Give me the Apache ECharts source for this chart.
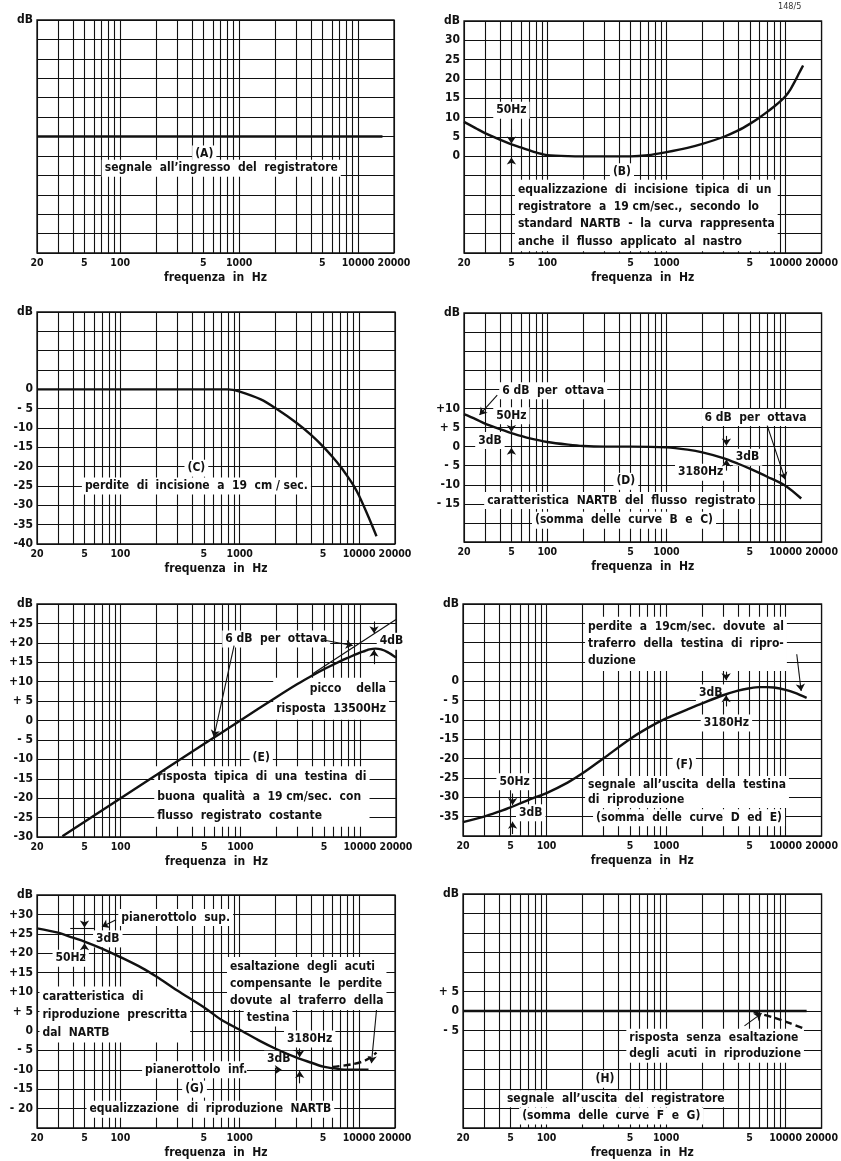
<!DOCTYPE html>
<html><head><meta charset="utf-8">
<script src="https://cdn.jsdelivr.net/npm/echarts@6/dist/echarts.min.js"></script>
<style>html,body{margin:0;padding:0;background:#fff}#c{width:841px;height:1161px}</style>
</head><body><div id="c"></div>
<script>
// ---------- axes ----------
const GRID_FREQS = [20,30,40,50,60,70,80,90,100,200,300,400,500,600,700,800,900,1000,2000,3000,4000,5000,6000,7000,8000,9000,10000,20000];
const TICK_FREQS = [20,50,100,500,1000,5000,10000,20000];
const TICK_TEXT  = ['20','5','100','5','1000','5','10000','20000'];

// ---------- curves (frequency Hz / dB) ----------
const fA = [20, 16000];
const dbA = [0, 0];

const fB = [20,25,30,40,50,60,70,80,90,100,150,200,300,500,700,1000,1500,2000,3000,4000,5000,6000,7000,8000,9000,10000,11000,12000,13000,14000];
const dbB = [8.9,7.3,6.0,4.3,3.1,2.3,1.6,1.0,0.6,0.3,0.05,0,0,0,0.3,1.1,2.2,3.2,5.0,6.7,8.4,10.0,11.5,12.9,14.2,15.6,17.4,19.5,21.6,23.5];

const fC = [20,100,500,800,1000,1500,2000,3000,4000,5000,6000,7000,8000,9000,10000,12000,14000];
const dbC = [0,0,0,0,-0.6,-2.6,-4.9,-8.7,-11.9,-14.8,-17.5,-20,-22.5,-24.9,-27.5,-33,-38];

const fD = [20,25,30,40,50,60,70,100,150,200,300,500,1000,1500,2000,3000,4000,5000,7000,10000,13500];
const dbD = [8.5,7.2,6.0,4.6,3.5,2.8,2.2,1.2,0.5,0.15,0,0,-0.2,-0.8,-1.5,-3.0,-4.5,-5.8,-7.9,-10.3,-13.6];

const fE = [32.6,50,100,200,500,1000,2000,3000,4000,5000,6000,7000,8000,9000,10000,11000,12000,13500,15000,17000,20000];
const dbE = [-29.8,-26.1,-20,-14,-6,0,6,9.4,11.6,13.2,14.4,15.4,16.2,16.9,17.5,17.9,18.3,18.5,18.3,17.6,16.2];
const fE2 = [4000, 20000];          // 6 dB/ottava asymptote
const dbE2 = [12.0, 26.0];

const fF = [20,30,40,50,70,100,150,200,300,500,700,1000,1500,2000,3000,4000,5000,6000,7000,8000,10000,12000,15000];
const dbF = [-36.4,-35,-33.7,-32.6,-30.7,-28.9,-26.2,-23.8,-19.9,-14.9,-12.1,-9.6,-7.3,-5.7,-3.6,-2.4,-1.8,-1.5,-1.5,-1.6,-2.2,-3.0,-4.3];

const fG = [20,30,40,50,70,100,150,200,300,500,700,1000,1500,2000,3000,4000,5000,6000,7000,8000,10000,12000];
const dbG = [26.4,25.3,24.0,23.0,21.2,19.0,16.3,14.0,10.4,6.1,2.9,0.3,-2.7,-4.6,-6.9,-8.2,-9.2,-9.6,-9.9,-10,-10,-10];
const fG2 = [6000,8700,11300,14000];   // dashed
const dbG2 = [-9.3,-8.6,-7.6,-5.6];

const fH = [20, 15000];
const dbH = [0, 0];
const fH2 = [5400,8000,11000,14500];   // dashed
const dbH2 = [-0.3,-1.7,-3.2,-4.6];

// ---------- y tick labels ----------
const yValsA = [30];                  const yTextA = ['dB'];
const yValsB = [35,30,25,20,15,10,5,0]; const yTextB = ['dB','30','25','20','15','10','5','0'];
const yValsC = [20,0,-5,-10,-15,-20,-25,-30,-35,-40]; const yTextC = ['dB','0','- 5','-10','-15','-20','-25','-30','-35','-40'];
const yValsD = [35,10,5,0,-5,-10,-15]; const yTextD = ['dB','+10','+ 5','0','- 5','-10','- 15'];
const yValsE = [30,25,20,15,10,5,0,-5,-10,-15,-20,-25,-30]; const yTextE = ['dB','+25','+20','+15','+10','+ 5','0','- 5','-10','-15','-20','-25','-30'];
const yValsF = [20,0,-5,-10,-15,-20,-25,-30,-35]; const yTextF = ['dB','0','- 5','-10','-15','-20','-25','-30','-35'];
const yValsG = [35,30,25,20,15,10,5,0,-5,-10,-15,-20]; const yTextG = ['dB','+30','+25','+20','+15','+10','+ 5','0','- 5','-10','-15','- 20'];
const yValsH = [30,5,0,-5];           const yTextH = ['dB','+ 5','0','- 5'];

// ---------- layout & annotations ----------
const FONT = "'DejaVu Sans Condensed','Liberation Sans Narrow','DejaVu Sans',sans-serif";
const panels = [
 { box:[37,20,357,233], y:[-30,30], yv:yValsA, yt:yTextA,
   curves:[[fA,dbA,'solid']],
   notes:[[509,-4.5,'(A)','center'],[707,-8.2,'segnale  all’ingresso  del  registratore','center']],
   arrows:[] },
 { box:[464,21,360,232], y:[-25,35], yv:yValsB, yt:yTextB,
   curves:[[fB,dbB,'solid']],
   notes:[[50,11.9,'50Hz','center'],[423,-4,'(B)','center'],
          [53.5,-15.3,'equalizzazione  di  incisione  tipica  di  un\nregistratore  a  19 cm/sec.,  secondo  lo\nstandard  NARTB  -  la  curva  rappresenta\nanche  il  flusso  applicato  al  nastro','left',17.4]],
   arrows:[[50,7,50,3.3],[50,-3.5,50,-0.3]] },
 { box:[37,312,358,232], y:[-40,20], yv:yValsC, yt:yTextC,
   curves:[[fC,dbC,'solid']],
   notes:[[433,-20.4,'(C)','center'],[433,-25,'perdite  di  incisione  a  19  cm / sec.','center']],
   arrows:[] },
 { box:[464,313,360,229], y:[-25,35], yv:yValsD, yt:yTextD,
   curves:[[fD,dbD,'solid']],
   notes:[[39.5,14.6,'6 dB  per  ottava','left'],[50,8.1,'50Hz','center'],[33,1.6,'3dB','center'],
          [1970,7.6,'6 dB  per  ottava','left'],[3600,-2.8,'3dB','left'],[3180,-6.7,'3180Hz','right'],
          [456,-9.1,'(D)','center'],[418,-14.1,'caratteristica  NARTB  del  flusso  registrato','center'],
          [440,-19.3,'(somma  delle  curve  B  e  C)','center']],
   arrows:[[38,13.5,27,8.3,0.3],[50,7,50,3.8],[50,-4,50,-0.3],
           [3180,2.8,3180,0.3],[3180,-6.3,3180,-3.4],[7000,5.5,9900,-8.6,-0.35]] },
 { box:[37,604,359,233], y:[-30,30], yv:yValsE, yt:yTextE,
   curves:[[fE,dbE,'solid'],[fE2,dbE2,'thin']],
   notes:[[706,21,'6 dB  per  ottava','left'],[13800,20.4,'4dB','left'],
          [17500,5.6,'picco    della\nrisposta  13500Hz','right',20],
          [1495,-9.7,'(E)','center'],
          [191,-19.6,'risposta  tipica  di  una  testina  di\nbuona  qualità  a  19 cm/sec.  con\nflusso  registrato  costante','left',19.5]],
   arrows:[[4800,20.8,8700,19.3],[887,19.3,601,-4.3,0.35],[13100,25.5,13100,22.5],[13100,14.5,13100,18.2]] },
 { box:[463,604,360,232], y:[-40,20], yv:yValsF, yt:yTextF,
   curves:[[fF,dbF,'solid']],
   notes:[[210,9.7,'perdite  a  19cm/sec.  dovute  al\ntraferro  della  testina  di  ripro-\nduzione','left',17.4],
          [2360,-3,'3dB','center'],[3200,-10.8,'3180Hz','center'],[1420,-21.6,'(F)','center'],
          [210,-28.6,'segnale  all’uscita  della  testina\ndi  riproduzione','left',15],
          [245,-35.3,'(somma  delle  curve  D  ed  E)','left'],
          [54,-26,'50Hz','center'],[55.5,-34,'3dB','left']],
   arrows:[[12400,7,13500,-2.5,-0.6],[3180,2.5,3180,0.3],[3180,-6.5,3180,-3.6],
           [52,-29,52,-32],[52,-39.5,52,-36.3]] },
 { box:[37,895,358,233], y:[-25,35], yv:yValsG, yt:yTextG,
   curves:[[fG,dbG,'solid'],[fG2,dbG2,'dashed']],
   notes:[[96,29.2,'pianerottolo  sup.','left'],[59,23.7,'3dB','left'],[27,18.7,'50Hz','left'],
          [21,4.2,'caratteristica  di\nriproduzione  prescritta\ndal  NARTB','left',18],
          [782,12.2,'esaltazione  degli  acuti\ncompensante  le  perdite\ndovute  al  traferro  della','left',17],
          [1080,3.3,'testina','left'],[2350,-2.1,'3180Hz','left'],[1600,-7.3,'3dB','left'],
          [152,-10,'pianerottolo  inf.','left'],[418,-15,'(G)','center'],
          [52,-20.2,'equalizzazione  di  riproduzione  NARTB','left']],
   arrows:[[92,28.6,70,26.8],[38,26.4,60,26.4,0,'none'],[50,30.5,50,26.6],[50,18.5,50,22.6],
           [14000,5.4,12700,-8.3,-0.5],[3180,-4.5,3180,-6.8],[3180,-13.5,3180,-10.3],[1150,-10,2250,-10]] },
 { box:[463,894,359,234], y:[-30,30], yv:yValsH, yt:yTextH,
   curves:[[fH,dbH,'solid'],[fH2,dbH2,'dashed']],
   notes:[[465,-8.9,'risposta  senza  esaltazione\ndegli  acuti  in  riproduzione','left',16],
          [308,-17.5,'(H)','center'],[44,-22.5,'segnale  all’uscita  del  registratore','left'],
          [59,-26.9,'(somma  delle  curve  F  e  G)','left']],
   arrows:[[4530,-3.8,6300,-0.6]] }
];

const TXT = {color:'#111', fontFamily:FONT, fontSize:12, fontWeight:'bold'};
const TICKTXT = {color:'#111', fontFamily:FONT, fontSize:10.5, fontWeight:'bold'};
const chart = echarts.init(document.getElementById('c'), null, {renderer:'canvas'});
const grid = [], xAxis = [], yAxis = [], series = [];
panels.forEach((p, i) => {
  grid.push({left:p.box[0], top:p.box[1], width:p.box[2], height:p.box[3], show:true,
             borderColor:'#111', borderWidth:1.3, containLabel:false});
  xAxis.push({
    type:'log', logBase:10, min:20, max:20000, gridIndex:i,
    axisLine:{show:false}, axisTick:{show:false, customValues:GRID_FREQS},
    splitLine:{show:true, lineStyle:{color:'#111', width:1.1}},
    minorTick:{show:false}, minorSplitLine:{show:false},
    axisLabel:Object.assign({show:true, customValues:TICK_FREQS, margin:5, showMaxLabel:true, showMinLabel:true,
      hideOverlap:false,
      formatter:(v)=>{ const k = TICK_FREQS.findIndex(t=>Math.abs(t-v)/t<1e-6); return k>=0?TICK_TEXT[k]:''; }}, TICKTXT),
    name:'frequenza  in  Hz', nameLocation:'middle', nameGap:19,
    nameTextStyle:TXT
  });
  yAxis.push({
    type:'value', min:p.y[0], max:p.y[1], interval:5, gridIndex:i,
    axisLine:{show:false}, axisTick:{show:false},
    splitLine:{show:true, lineStyle:{color:'#111', width:1.1}},
    axisLabel:Object.assign({show:true, margin:4, showMaxLabel:true, showMinLabel:true,
      formatter:(v)=>{ const k = p.yv.indexOf(Math.round(v)); return k>=0?p.yt[k]:''; }}, TXT)
  });
  p.curves.forEach(c => {
    const style = c[2];
    series.push({
      type:'line', xAxisIndex:i, yAxisIndex:i, showSymbol:false, symbol:'none',
      smooth:0.3,
      silent:true, animation:false, z:4,
      lineStyle:{color:'#111', width: style==='thin'?1.2:2.4, type: style==='dashed'?[7,4]:'solid', opacity:1},
      data:c[0].map((f,k)=>[f, c[1][k]])
    });
  });
  series.push({
    type:'scatter', xAxisIndex:i, yAxisIndex:i, symbolSize:0, silent:true, animation:false, z:3,
    itemStyle:{opacity:1, color:'#111'},
    data:p.notes.map(n=>({value:[n[0],n[1]], label:{formatter:n[2], align:n[3], lineHeight:n[4]||15}})),
    label:Object.assign({show:true, position:'inside', verticalAlign:'middle', opacity:1,
           backgroundColor:'#ffffff', padding:[1,3]}, TXT),
    markLine:{silent:true, animation:false, symbol:['none','arrow'], symbolSize:7, label:{show:false},
      emphasis:{disabled:true},
      lineStyle:{color:'#111', width:1.1, type:'solid', opacity:1},
      data:p.arrows.map(a=>{
        const cv = a[4]||0; const endSym = a[5]||'arrow';
        return [{coord:[a[0],a[1]], symbol:'none', lineStyle:{curveness:cv}},
                {coord:[a[2],a[3]], symbol:endSym, lineStyle:{curveness:cv}}];
      })}
  });
});

chart.setOption({
  animation:false, backgroundColor:'#fff',
  grid, xAxis, yAxis, series,
  graphic:[{type:'text', left:778, top:2, style:{text:'148/5', fill:'#333', font:"9px "+FONT}}]
});
</script></body></html>
